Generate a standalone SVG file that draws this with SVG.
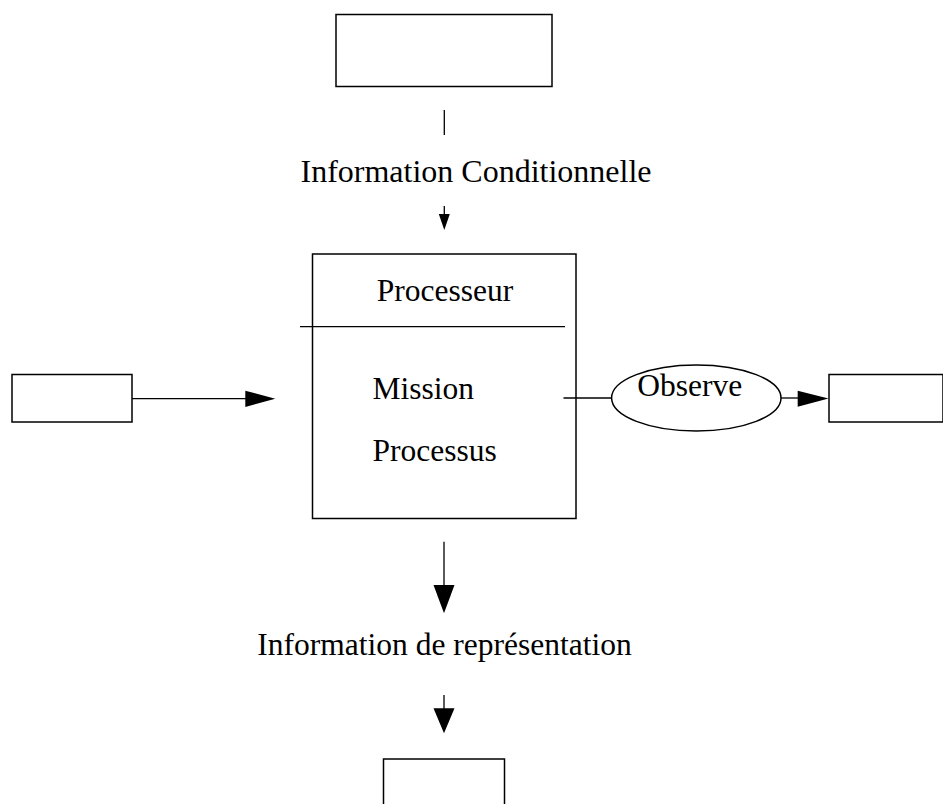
<svg xmlns="http://www.w3.org/2000/svg" width="943" height="804" viewBox="0 0 943 804">
<style>
.box{fill:#fff;stroke:#000;stroke-width:1.5}
.ln{stroke:#000;stroke-width:1.3;fill:none}
.head{fill:#000;stroke:none}
text{font-family:"Liberation Serif","Times New Roman",serif;font-size:31.5px;fill:#000}
</style>
<rect width="943" height="804" fill="#fff"/>
<g id="top-box"><rect class="box" x="336" y="14.5" width="216" height="72"/></g>
<g id="processeur">
<rect class="box" x="312.5" y="254" width="263.5" height="264.5"/>
<text x="445" y="301" text-anchor="middle">Processeur</text>
<text x="372.5" y="399">Mission</text>
<text x="372.5" y="461">Processus</text>
</g>
<g id="left-box"><rect class="box" x="12" y="374.5" width="120" height="47.5"/></g>
<g id="observe">
<ellipse class="box" cx="696.3" cy="398" rx="84.7" ry="33"/>
<text x="689.7" y="396" text-anchor="middle">Observe</text>
</g>
<g id="right-box"><rect class="box" x="829" y="374.5" width="114" height="47.5"/></g>
<g id="bottom-box"><rect class="box" x="383.5" y="759" width="121" height="50"/></g>
<g id="label-cond"><text x="476" y="182" text-anchor="middle" textLength="351" lengthAdjust="spacingAndGlyphs">Information Conditionnelle</text></g>
<g id="label-repr"><text x="444.5" y="655" text-anchor="middle">Information de représentation</text></g>
<g id="connectors">
<line class="ln" x1="444.3" y1="110" x2="444.3" y2="135"/>
<line class="ln" x1="444.3" y1="206" x2="444.3" y2="216"/>
<polygon class="head" points="438.8,214 449.8,214 444.3,230"/>
<line class="ln" x1="300" y1="326.7" x2="565" y2="326.7"/>
<line class="ln" x1="132" y1="398.7" x2="247" y2="398.7"/>
<polygon class="head" points="245.3,390.7 275.3,398.7 245.3,407"/>
<line class="ln" x1="563.5" y1="398" x2="611.7" y2="398"/>
<line class="ln" x1="781" y1="398" x2="799" y2="398"/>
<polygon class="head" points="797.7,390.7 828.5,398.5 797.7,406.7"/>
<line class="ln" x1="444" y1="541.7" x2="444" y2="587"/>
<polygon class="head" points="433.5,585 454.5,585 444,613.3"/>
<line class="ln" x1="444" y1="695" x2="444" y2="710"/>
<polygon class="head" points="433.5,708.3 454.5,708.3 444,733.3"/>
</g>
</svg>
